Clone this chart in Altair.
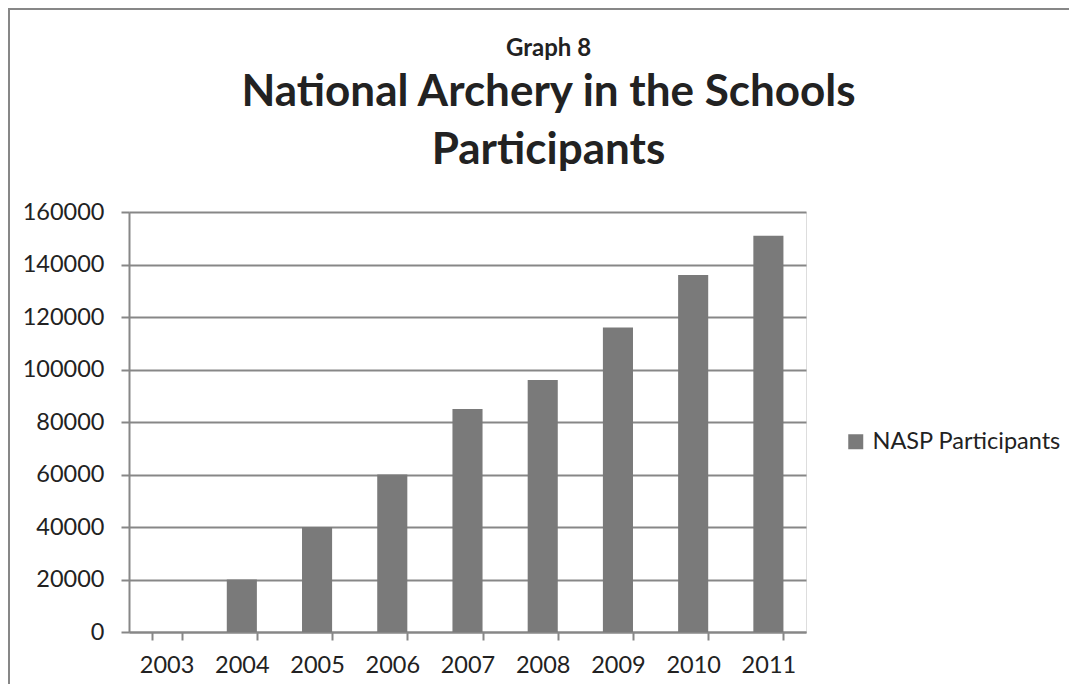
import altair as alt
import pandas as pd

years = ["2003", "2004", "2005", "2006", "2007", "2008", "2009", "2010", "2011"]
participants = [0, 20000, 40000, 60000, 85000, 96000, 116000, 136000, 151000]
series_name = "NASP Participants"
y_ticks = [0, 20000, 40000, 60000, 80000, 100000, 120000, 140000, 160000]

df = pd.DataFrame({"year": years, "value": participants, "series": [series_name] * len(years)})

FONT = "Lato"
GRAY = "#878787"
BAR = "#7a7a7a"
TEXT = "#222222"

bars = alt.Chart(df).mark_bar(color=BAR).encode(
    x=alt.X(
        "year:N",
        sort=years,
        scale=alt.Scale(paddingInner=0.6, paddingOuter=0.3),
        axis=alt.Axis(
            title=None,
            labelAngle=0,
            tickBand="extent",
            ticks=True,
            tickSize=8,
            tickColor=GRAY,
            tickWidth=2,
            domainColor=GRAY,
            domainWidth=2,
            labelPadding=13,
            labelFontSize=23.5,
            labelFont=FONT,
            labelColor=TEXT,
            grid=False,
        ),
    ),
    y=alt.Y(
        "value:Q",
        scale=alt.Scale(domain=[0, 160000], nice=False),
        axis=alt.Axis(
            title=None,
            values=y_ticks,
            format="d",
            tickSize=8,
            tickColor=GRAY,
            tickWidth=2,
            domainColor=GRAY,
            domainWidth=2,
            gridColor=GRAY,
            gridWidth=2,
            labelPadding=17,
            labelFontSize=23.5,
            labelFont=FONT,
            labelColor=TEXT,
        ),
    ),
    color=alt.Color(
        "series:N",
        scale=alt.Scale(range=[BAR]),
        legend=alt.Legend(
            title=None,
            orient="none",
            legendX=715,
            legendY=218,
            symbolType="square",
            symbolSize=225,
            symbolStrokeWidth=0,
            labelFont=FONT,
            labelFontSize=23.5,
            labelColor=TEXT,
            labelOffset=5,
            labelLimit=400,
        ),
    ),
)

frame = pd.DataFrame({"a": [0]})
left_border = alt.Chart(frame).mark_rule(color=GRAY, strokeWidth=2).encode(
    x=alt.value(-120), y=alt.value(-203), y2=alt.value(480)
)
top_border = alt.Chart(frame).mark_rule(color=GRAY, strokeWidth=2).encode(
    x=alt.value(-121), x2=alt.value(960), y=alt.value(-203)
)

chart = alt.layer(bars, left_border, top_border).properties(
    width=677,
    height=420,
    padding={"left": 121, "top": 204, "right": 263, "bottom": 52},
    autosize=alt.AutoSizeParams(type="none"),
    title=alt.TitleParams(
        text="Graph 8",
        subtitle=["National Archery in the Schools", "Participants"],
        font=FONT,
        fontSize=24,
        fontWeight="bold",
        color=TEXT,
        subtitleFont=FONT,
        subtitleFontSize=44,
        subtitleFontWeight="bold",
        subtitleColor=TEXT,
        subtitleLineHeight=58,
        subtitlePadding=10,
        anchor="middle",
        dx=81,
        offset=-165,
    ),
).configure_view(stroke=None).configure(background="white")

chart.save("out.html", embed_options={"renderer": "svg", "actions": False})
